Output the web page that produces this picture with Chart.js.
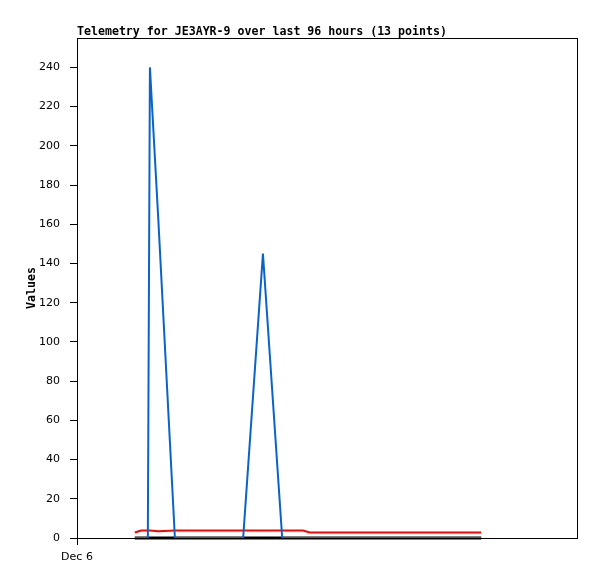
<!DOCTYPE html>
<html>
<head>
<meta charset="utf-8">
<script src="https://cdn.jsdelivr.net/npm/chart.js@4/dist/chart.umd.min.js"></script>
<style>
  html, body { margin: 0; padding: 0; background: #fff; }
  #wrap { width: 597px; height: 579px; }
</style>
</head>
<body>
<div id="wrap"><canvas id="myChart" width="597" height="579"></canvas></div>
<script>
let titleText = 'Telemetry for JE3AYR-9 over last 96 hours (13 points)';
let yTitle = 'Values';
// hours since Dec 6 00:00
let hours = [11.1, 12.3, 13.6, 14.0, 15.6, 18.8, 31.9, 35.7, 39.4, 43.4, 44.7, 62.0, 77.6];
let blueValues = [0, 0, 0, 240, 163, 0, 0, 145, 0, 0, 0, 0, 0];
let redValues = [2.8, 3.8, 3.8, 3.8, 3.5, 3.8, 3.8, 3.8, 3.8, 3.8, 2.8, 2.8, 2.8];
let blackValues = [0, 0, 0, 0, 0, 0, 0, 0, 0, 0, 0, 0, 0];
let xTickLabels = {0: 'Dec 6'};

let toPoints = (vals) => vals.map((v, i) => ({x: hours[i], y: v}));

// box round the plot, title and y title
let frame = {
  id: 'frame',
  afterDraw: (chart) => {
    let c = chart.ctx, a = chart.chartArea;
    c.save();
    c.strokeStyle = '#000';
    c.lineWidth = 1;
    c.strokeRect(Math.floor(a.left) + 0.5, Math.floor(a.top) + 0.5, Math.round(a.right - a.left), Math.round(a.bottom - a.top));
    c.fillStyle = '#000';
    c.font = 'bold 11.6px "DejaVu Sans Mono"';
    c.textBaseline = 'alphabetic';
    c.fillText(titleText, a.left, a.top - 3);
    c.translate(35, (a.top + a.bottom) / 2);
    c.rotate(-Math.PI / 2);
    c.textAlign = 'center';
    c.fillText(yTitle, 0, 0);
    c.restore();
  }
};

let ctx = document.getElementById('myChart').getContext('2d');
let myChart = new Chart(ctx, {
  type: 'line',
  data: {
    datasets: [
      {data: toPoints(blueValues), borderColor: '#0a64c8', borderWidth: 2, order: 1, clip: 4},
      {data: toPoints(blackValues), borderColor: '#000', borderWidth: 3, order: 2, clip: 4},
      {data: toPoints(redValues), borderColor: '#ff0000', borderWidth: 2, order: 3, clip: 4}
    ]
  },
  plugins: [frame],
  options: {
    responsive: false,
    animation: false,
    layout: {padding: {left: 0, right: 20, top: 38, bottom: 0}},
    elements: {point: {radius: 0}, line: {tension: 0}},
    plugins: {legend: {display: false}, tooltip: {enabled: false}},
    scales: {
      x: {
        type: 'linear',
        min: 0,
        max: 96,
        afterBuildTicks: (s) => { s.ticks = [{value: 0}]; },
        afterFit: (s) => { s.height = 41; },
        border: {display: false},
        grid: {drawOnChartArea: false, tickLength: 7, color: '#000'},
        ticks: {
          color: '#000',
          font: {family: 'DejaVu Sans', size: 11},
          padding: 6,
          maxRotation: 0,
          callback: (v) => xTickLabels[v] || ''
        }
      },
      y: {
        min: 0,
        max: 255,
        afterBuildTicks: (s) => {
          let t = [];
          for (let v = 0; v <= 240; v += 20) t.push({value: v});
          s.ticks = t;
        },
        afterFit: (s) => { s.width = 77; },
        border: {display: false},
        grid: {drawOnChartArea: false, tickLength: 7, color: '#000'},
        ticks: {color: '#000', font: {family: 'DejaVu Sans', size: 11}, padding: 10}
      }
    }
  }
});
</script>
</body>
</html>
